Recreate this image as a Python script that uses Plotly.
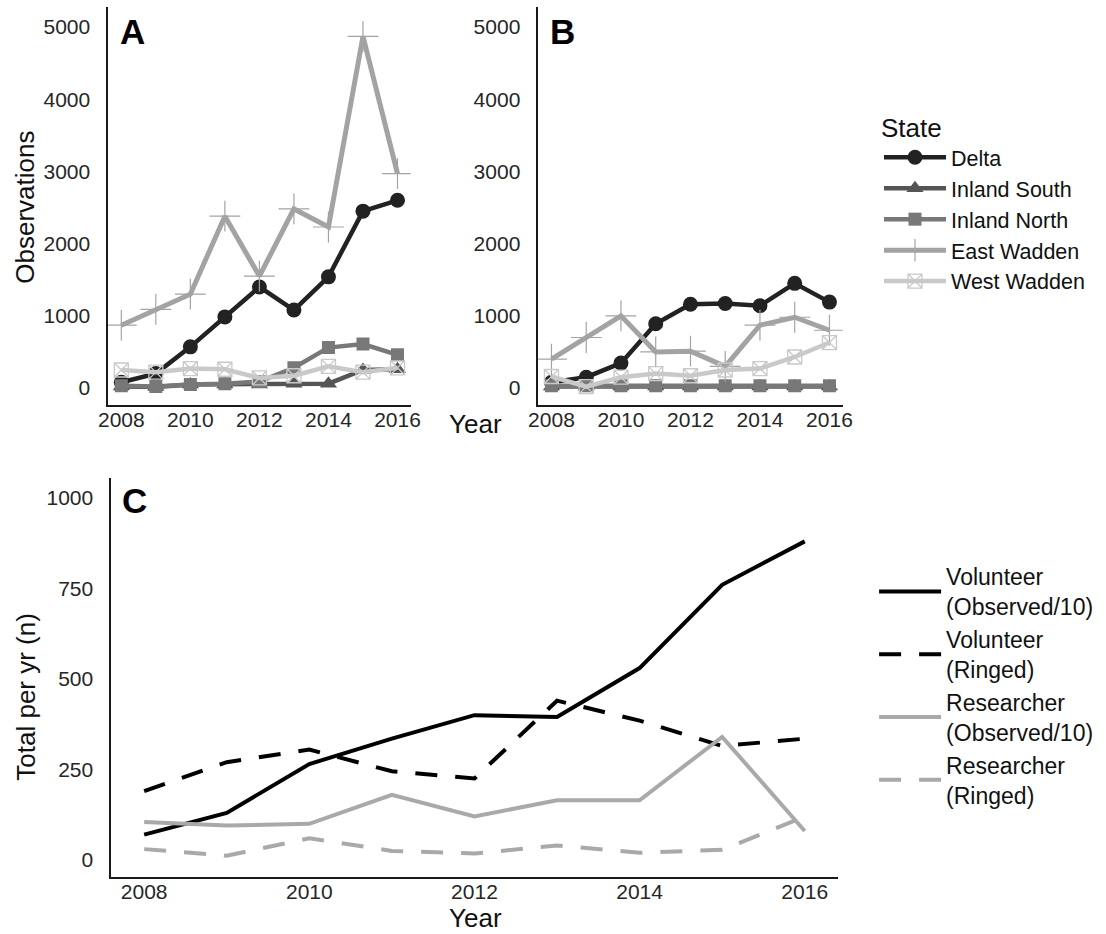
import plotly.graph_objects as go

# ---- data -------------------------------------------------------------
years = [2008, 2009, 2010, 2011, 2012, 2013, 2014, 2015, 2016]
states = ["Delta", "Inland South", "Inland North", "East Wadden", "West Wadden"]

# Panel A: observations per state
a_delta = [80, 200, 570, 985, 1400, 1080, 1540, 2450, 2600]
a_inland_south = [20, 15, 50, 50, 50, 60, 60, 250, 260]
a_inland_north = [30, 20, 50, 60, 90, 280, 560, 610, 460]
a_east_wadden = [870, 1090, 1300, 2380, 1550, 2480, 2230, 4870, 2970]
a_west_wadden = [250, 220, 270, 260, 140, 170, 300, 220, 280]

# Panel B: observations per state
b_delta = [80, 150, 345, 890, 1160, 1170, 1140, 1450, 1190]
b_inland_south = [20, 20, 20, 20, 20, 20, 20, 20, 20]
b_inland_north = [30, 30, 30, 30, 30, 30, 30, 30, 30]
b_east_wadden = [400, 700, 1000, 500, 510, 300, 870, 980, 800]
b_west_wadden = [160, 20, 150, 200, 170, 250, 270, 430, 630]

# Panel C: totals per year
c_series = ["Volunteer<br>(Observed/10)", "Volunteer<br>(Ringed)",
            "Researcher<br>(Observed/10)", "Researcher<br>(Ringed)"]
c_vol_observed = [70, 130, 265, 335, 400, 395, 530, 760, 880]
c_vol_ringed = [190, 270, 305, 245, 225, 440, 385, 315, 335]
c_res_observed = [105, 95, 100, 180, 120, 165, 165, 340, 80]
c_res_ringed = [30, 12, 60, 25, 18, 40, 20, 28, 120]

year_ticks = [2008, 2010, 2012, 2014, 2016]
obs_ticks = [0, 1000, 2000, 3000, 4000, 5000]
total_ticks = [0, 250, 500, 750, 1000]

# ---- styling ----------------------------------------------------------
FONT = "Liberation Sans, Arial, sans-serif"
W, H = 1106, 934

state_style = {
    "Delta": dict(color="#222222", symbol="circle", size=15, lw=4.5, mlw=0),
    "Inland South": dict(color="#555555", symbol="triangle-up", size=15, lw=4.5, mlw=0),
    "Inland North": dict(color="#787878", symbol="square", size=13, lw=4.5, mlw=0),
    "East Wadden": dict(color="#a3a3a3", symbol="cross-thin-open", size=22, lw=5, mlw=1.2),
    "West Wadden": dict(color="#c9c9c9", symbol="square-x-open", size=14, lw=4.5, mlw=1.3),
}

fig = go.Figure()

panel_a = [a_delta, a_inland_south, a_inland_north, a_east_wadden, a_west_wadden]
panel_b = [b_delta, b_inland_south, b_inland_north, b_east_wadden, b_west_wadden]

for axis_suffix, values_list, show in (("", panel_a, True), ("2", panel_b, False)):
    for name, vals in zip(states, values_list):
        st = state_style[name]
        marker = dict(symbol=st["symbol"], size=st["size"], color=st["color"])
        if st["mlw"]:
            marker["line"] = dict(color=st["color"], width=st["mlw"])
        fig.add_trace(go.Scatter(
            x=years, y=vals, name=name, mode="lines+markers",
            line=dict(color=st["color"], width=st["lw"]),
            marker=marker, showlegend=show, legend="legend",
            xaxis="x" + axis_suffix, yaxis="y" + axis_suffix,
        ))

c_values = [c_vol_observed, c_vol_ringed, c_res_observed, c_res_ringed]
c_styles = [
    dict(color="#000000", dash="solid"),
    dict(color="#000000", dash="22px,18px"),
    dict(color="#a9a9a9", dash="solid"),
    dict(color="#a9a9a9", dash="22px,18px"),
]
for name, vals, st in zip(c_series, c_values, c_styles):
    fig.add_trace(go.Scatter(
        x=years, y=vals, name=name, mode="lines",
        line=dict(color=st["color"], width=4, dash=st["dash"]),
        legend="legend2", xaxis="x3", yaxis="y3",
    ))


def px_x(p):
    return p / W


def px_y(p):
    return 1 - p / H


axis_common = dict(
    showline=True, linecolor="#1a1a1a", linewidth=1.5, mirror=False,
    showgrid=False, zeroline=False, ticks="",
    tickfont=dict(family=FONT, size=21, color="#262626"),
)
x_common = dict(ticklabelstandoff=-5, **axis_common)
y_common = dict(ticklabelstandoff=12, **axis_common)

fig.update_layout(
    width=W, height=H, autosize=False,
    margin=dict(l=0, r=0, t=0, b=0),
    paper_bgcolor="white", plot_bgcolor="white",
    font=dict(family=FONT, color="#111111"),
    xaxis=dict(domain=[px_x(100), px_x(408)], range=[2007.62, 2016.38],
               tickvals=year_ticks, anchor="y", **x_common),
    yaxis=dict(domain=[px_y(405), px_y(7)], range=[-235, 5277],
               tickvals=obs_ticks, anchor="x", **y_common),
    xaxis2=dict(domain=[px_x(538), px_x(848)], range=[2007.62, 2016.38],
                tickvals=year_ticks, anchor="y2", **x_common),
    yaxis2=dict(domain=[px_y(405), px_y(7)], range=[-235, 5277],
                tickvals=obs_ticks, anchor="x2", **y_common),
    xaxis3=dict(domain=[px_x(103), px_x(843)], range=[2007.6, 2016.4],
                tickvals=year_ticks, anchor="y3", **x_common),
    yaxis3=dict(domain=[px_y(877), px_y(478)], range=[-47, 1055],
                tickvals=total_ticks, anchor="x3", **y_common),
    legend=dict(
        x=px_x(885), y=px_y(103), xanchor="left", yanchor="top",
        title=dict(text="State", font=dict(family=FONT, size=26, color="#111111")),
        font=dict(family=FONT, size=21.5, color="#111111"),
        itemwidth=62, bgcolor="rgba(0,0,0,0)", tracegroupgap=0,
    ),
    legend2=dict(
        x=px_x(880), y=px_y(555), xanchor="left", yanchor="top",
        font=dict(family=FONT, size=23, color="#111111"),
        itemwidth=62, bgcolor="rgba(0,0,0,0)", tracegroupgap=0,
        valign="middle",
    ),
)

title_font = dict(family=FONT, size=26, color="#111111")
letter_font = dict(family=FONT, size=35, color="#000000")
annotations = [
    dict(text="<b>A</b>", x=px_x(125), y=px_y(31), font=letter_font),
    dict(text="<b>B</b>", x=px_x(563), y=px_y(31), font=letter_font),
    dict(text="<b>C</b>", x=px_x(127), y=px_y(500), font=letter_font),
    dict(text="Observations", x=px_x(15), y=px_y(207), textangle=-90, font=title_font),
    dict(text="Year", x=px_x(474), y=px_y(424), font=title_font),
    dict(text="Total per yr (n)", x=px_x(16), y=px_y(697), textangle=-90, font=title_font),
    dict(text="Year", x=px_x(474), y=px_y(918), font=title_font),
]
for a in annotations:
    fig.add_annotation(xref="paper", yref="paper", showarrow=False,
                       xanchor="center", yanchor="middle", **a)

fig.write_html("out.html")
